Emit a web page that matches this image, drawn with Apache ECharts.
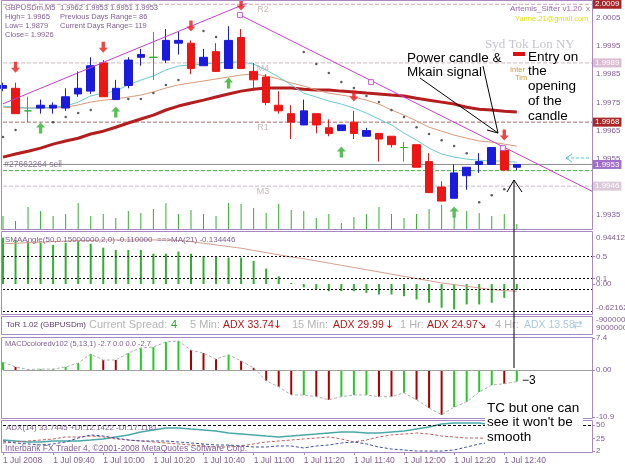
<!DOCTYPE html>
<html>
<head>
<meta charset="utf-8">
<script src="https://cdn.jsdelivr.net/npm/echarts@6/dist/echarts.min.js"></script>
<style>
html, body { margin: 0; padding: 0; background: #fff; }
#chart { width: 625px; height: 469px; }
</style>
</head>
<body>
<div id="chart"></div>
<script>
// GBPUSDm M5, 1 Jul 2008
const times = ['09:20','09:25','09:30','09:35','09:40','09:45','09:50','09:55','10:00','10:05','10:10','10:15','10:20','10:25',
  '10:30','10:35','10:40','10:45','10:50','10:55','11:00','11:05','11:10','11:15','11:20','11:25','11:30','11:35',
  '11:40','11:45','11:50','11:55','12:00','12:05','12:10','12:15','12:20','12:25','12:30','12:35','12:40','12:45'];

const opens  = [1.9980,1.9980,1.9972,1.9973,1.9973,1.9973,1.9978,1.9979,1.9989,1.9976,1.9981,1.9991,1.9991,1.9990,
  1.9996,1.9996,1.9988,1.9993,1.9987,1.9998,1.9986,1.9984,1.9974,1.9971,1.9967,1.9971,1.9966,1.9965,
  1.9968,1.9963,1.9964,1.9963,1.9959,1.9960,1.9954,1.9945,1.9941,1.9949,1.9953,1.9953,1.9958,1.9952];
const closes = [1.9981,1.9971,1.9972,1.9974,1.9974,1.9977,1.9980,1.9988,1.9977,1.9980,1.9990,1.9992,1.9991,1.9997,
  1.9997,1.9987,1.9991,1.9986,1.9997,1.9987,1.9983,1.9975,1.9972,1.9968,1.9972,1.9967,1.9964,1.9967,
  1.9964,1.9965,1.9962,1.9960,1.9959,1.9952,1.9943,1.9940,1.9950,1.9952,1.9954,1.9959,1.9951,1.9953];
const lows   = [1.9979,1.9971,1.9968,1.9971,1.9971,1.9972,1.9977,1.9978,1.9977,1.9976,1.9980,1.9988,1.9983,1.9989,
  1.9992,1.9985,1.9988,1.9986,1.9987,1.9987,1.9979,1.9974,1.9971,1.9962,1.9967,1.9964,1.9963,1.9965,
  1.9962,1.9963,1.9954,1.9959,1.9954,1.9952,1.9943,1.9940,1.9941,1.9944,1.9950,1.9953,1.9951,1.9951];
const highs  = [1.9982,1.9982,1.9977,1.9976,1.9975,1.9980,1.9986,1.9991,1.9990,1.9983,1.9991,1.9994,2.0000,2.0001,
  2.0000,1.9997,1.9994,1.9996,2.0002,2.0001,1.9989,1.9985,1.9979,1.9974,1.9976,1.9971,1.9969,1.9967,
  1.9972,1.9966,1.9964,1.9963,1.9961,1.9960,1.9957,1.9947,1.9953,1.9952,1.9957,1.9959,1.9959,1.9953];

const maSlow = [1.99556,1.99567,1.99577,1.99588,1.99602,1.99613,1.99623,1.99638,1.99648,1.99662,1.99677,1.99691,1.99705,1.99723,
  1.99737,1.99748,1.99758,1.99769,1.99780,1.99790,1.99797,1.99801,1.99801,1.99801,1.99797,1.99794,1.99794,1.99790,
  1.99787,1.99783,1.99780,1.99776,1.99773,1.99765,1.99758,1.99751,1.99744,1.99733,1.99726,1.99723,1.99719,1.99716];
const maMid = [1.99733,1.99730,1.99730,1.99730,1.99730,1.99733,1.99741,1.99751,1.99758,1.99762,1.99769,1.99776,1.99787,1.99801,
  1.99812,1.99819,1.99826,1.99833,1.99840,1.99847,1.99851,1.99844,1.99833,1.99819,1.99808,1.99794,1.99783,1.99776,
  1.99769,1.99758,1.99744,1.99723,1.99705,1.99684,1.99662,1.99648,1.99634,1.99623,1.99613,1.99609,1.99602,1.99595];
const maFast = [1.99737,1.99733,1.99730,1.99730,1.99733,1.99737,1.99751,1.99773,1.99783,1.99790,1.99812,1.99829,1.99844,1.99865,
  1.99879,1.99883,1.99886,1.99890,1.99893,1.99893,1.99886,1.99865,1.99840,1.99812,1.99783,1.99769,1.99755,1.99744,
  1.99730,1.99712,1.99691,1.99670,1.99641,1.99616,1.99588,1.99567,1.99556,1.99549,1.99545,1.99542,1.99542,1.99538];
const sar = [1.99627,1.99652,null,null,1.99680,1.99698,1.99712,1.99723,null,null,1.99762,1.99762,1.99783,1.99812,
  1.99829,null,2.00003,1.99982,null,null,null,null,null,null,1.99929,1.99886,1.99854,1.99822,
  1.99801,1.99773,1.99751,1.99723,1.99698,1.99662,1.99638,1.99616,1.99595,1.99570,1.99396,1.99421,1.99442,null];

const downArrows = [[1,1.99875],[8,1.99946],[15,2.00021],[19,2.00095],[28,1.99773],[40,1.99634]];
const upArrows = [[3,1.99659],[9,1.99716],[18,1.99819],[27,1.99574],[36,1.99361]];

const volumes = [13,8,22,18,13,15,26,13,15,11,18,16,20,26,15,19,15,13,26,25,21,16,25,19,18,11,15,6,12,15,22,15,11,15,20,24,13,18,16,13,15,5];

// horizontal levels
const levelPrices = [2.00098, 1.99890, 1.99680, 1.99530, 1.99508, 1.99453];
const levelTexts = ['2.0009', '1.9989', '1.9968', '1.9953', '', '1.9946'];
const levelNames = ['R2', 'M4', 'R1', '', '', 'M3'];

// trend line (x in bar slots)
const trendUp = [[0, 1.99745], [20.5, 2.00121]];
const trendDown = [[18.91, 2.00060], [47, 1.99435]];
const trendMarks = [[18.91, 2.00060], [29.37, 1.99822], [39.9, 1.99588]];

const smaAngle = [0.84,0.80,0.78,0.75,0.71,0.75,0.77,0.73,0.66,0.62,0.62,0.62,0.55,0.55,0.59,0.55,0.51,0.50,0.48,0.48,0.42,
  0.28,0.14,0.02,-0.06,-0.10,-0.13,-0.13,-0.13,-0.16,-0.19,-0.19,-0.22,-0.28,-0.34,-0.43,-0.46,-0.37,-0.37,-0.34,-0.25,-0.11];
const smaMa = [0.73,0.74,0.75,0.76,0.77,0.78,0.79,0.79,0.80,0.80,0.80,0.80,0.80,0.80,0.79,0.77,0.74,0.71,0.68,0.65,0.61,
  0.57,0.53,0.49,0.46,0.42,0.38,0.34,0.30,0.26,0.22,0.18,0.14,0.10,0.06,0.02,-0.01,-0.04,-0.07,-0.10,-0.12,-0.13];
const smaLevels = [0.5, 0.1, -0.1, -0.5];
const smaTicks = [0.5, 0.1, 0, -0.1];

const macd = [1.8,0.7,0.1,0.2,0.2,0.7,1.6,3.7,2.3,2.3,3.9,5.1,5.3,6.5,6.7,4.6,3.9,2.5,3.5,2.1,0.5,
  -2.5,-3.9,-5.8,-5.8,-6.2,-6.9,-6.2,-5.8,-5.8,-6.2,-6.2,-5.3,-6.9,-8.8,-10.4,-8.6,-7.4,-5.1,-3.5,-3.2,-2.7];
const macdUp = [1,0,1,1,1,1,1,1,0,0,1,1,1,1,1,0,0,0,1,0,0,0,0,0,1,0,0,1,1,1,0,0,1,0,0,0,1,1,1,1,0,1];
const macdTicks = [7.4, 0, -10.9];

const adx = [22.1,20.3,18.5,18.5,20.3,20.3,20.3,22.1,24.0,27.7,31.4,36.9,40.6,44.3,44.3,42.4,40.6,38.7,35.1,33.2,31.4,
  29.5,27.7,29.5,31.4,33.2,35.1,36.9,36.9,35.1,35.1,36.9,38.7,42.4,46.1,51.7,53.5,53.5,53.5,49.8,46.1,33.7];
const diPlus = [16.6,18.5,20.3,22.1,24.0,27.7,27.7,29.5,27.7,24.0,22.1,20.3,18.5,16.6,14.8,12.9,11.1,9.2,9.2,11.1,14.8,
  18.5,20.3,22.1,24.0,25.8,27.7,24.0,18.5,22.1,27.7,31.4,33.2,35.1,33.2,29.5,27.7,25.8,25.8,24.0,22.1,22.1];
const diMinus = [20.3,16.6,14.8,12.9,14.8,18.5,25.8,31.4,29.5,25.8,22.1,20.3,20.3,20.3,18.5,16.6,14.8,12.9,12.9,11.1,9.2,
  9.2,11.1,11.1,7.4,11.1,12.9,16.6,18.5,14.8,9.2,5.5,3.7,1.8,1.8,1.8,3.7,9.2,14.8,18.5,20.3,20.3];
const adxTicks = [50, 25, 2];

const SLOTS = 48;
const FONT = '"Liberation Sans", Arial, sans-serif';
const AX = '#7e5e90';
const FRAME = '#a888c0';
const BLUE = '#1b1bdc';
const RED = '#ee1515';
const GREEN = '#2fb02f';

function renderChart() {
  const dom = document.getElementById('chart');
  const chart = echarts.init(dom);

  const cats = times.slice();
  for (let k = times.length; k < SLOTS; k++) cats.push('pad' + k);

  const candles = opens.map((o, i) => {
    const item = { value: [o, closes[i], lows[i], highs[i]] };
    if (o === closes[i]) {
      item.itemStyle = { color: GREEN, color0: GREEN, borderColor: GREEN, borderColor0: GREEN, borderColorDoji: GREEN };
    }
    return item;
  });

  const lvlLine = ['#c8a0b0', '#c8b8c4', '#a86a6a', '#8c8c8c', '#3cb43c', '#c8b8c8'];
  const lvlType = ['dashed', 'dashed', 'dashed', 'solid', 'dashed', 'dashed'];
  const lvlBox = ['#a82828', '#dcbcd0', '#a82828', '#a070c8', null, '#dccad8'];
  const levelSeries = levelPrices.map((p, i) => ({
    name: 'level' + i, type: 'line', xAxisIndex: 1, yAxisIndex: 0, z: 2,
    data: [[0, p], [SLOTS - 1, p]], showSymbol: false, silent: true,
    lineStyle: { color: lvlLine[i], type: lvlType[i], width: 1 },
    endLabel: {
      show: !!levelTexts[i], formatter: levelTexts[i], distance: 1,
      color: '#fff', backgroundColor: lvlBox[i], padding: [1, 2, 0, 2],
      fontSize: 8, fontFamily: FONT
    }
  }));

  const nameData = [];
  levelNames.forEach((n, i) => { if (n) nameData.push([20.75, levelPrices[i], n]); });

  const sarData = [];
  sar.forEach((v, i) => { if (v !== null) sarData.push([i, v]); });

  const grids = [
    { left: 3, right: 33, top: 3.7, height: 225.6 },
    { left: 3, right: 33, top: 189, height: 40 },
    { left: 3, right: 33, top: 232, height: 81 },
    { left: 3, right: 33, top: 338, height: 79 },
    { left: 3, right: 33, top: 420, height: 32 }
  ];

  const catAxis = (g, showLabels) => ({
    type: 'category', gridIndex: g, data: cats, boundaryGap: false,
    axisLine: { show: false },
    axisTick: showLabels ? { show: true, length: 3, lineStyle: { color: FRAME },
      interval: (i) => i % 4 === 0 && i < times.length } : { show: false },
    axisLabel: showLabels ? {
      show: true, align: 'left', margin: 4, fontSize: 8.5, fontFamily: FONT, color: AX,
      interval: (i) => i % 4 === 0 && i < times.length,
      formatter: (v, i) => (i === 0 ? '1 Jul 2008' : '1 Jul ' + v)
    } : { show: false },
    splitLine: { show: false }
  });

  const sideLabel = { fontSize: 8, fontFamily: FONT, color: AX, margin: 4 };

  const option = {
    animation: false,
    backgroundColor: '#fff',
    grid: grids,
    xAxis: [
      catAxis(0, false),
      { type: 'value', gridIndex: 0, min: 0, max: SLOTS - 1, show: false },
      catAxis(1, false),
      catAxis(2, false),
      catAxis(3, false),
      catAxis(4, true)
    ],
    yAxis: [
      {
        type: 'value', gridIndex: 0, position: 'right', min: 1.993, max: 2.001, interval: 0.0005,
        axisLine: { show: false }, axisTick: { show: false }, splitLine: { show: false },
        axisLabel: Object.assign({}, sideLabel, {
          formatter: (v) => (Math.round(v * 10000) % 10 === 5 ? v.toFixed(4) : '')
        })
      },
      { type: 'value', gridIndex: 1, min: 0, max: 40, show: false },
      {
        type: 'value', gridIndex: 2, position: 'right', min: -0.525, max: 0.944,
        axisLine: { show: false }, splitLine: { show: false },
        axisTick: { show: true, length: 3, lineStyle: { color: FRAME }, customValues: smaTicks },
        axisLabel: Object.assign({}, sideLabel, { customValues: smaTicks,
          formatter: (v) => (v === 0 ? '0.00' : String(v)) })
      },
      {
        type: 'value', gridIndex: 3, position: 'right', min: -10.9, max: 7.4,
        axisLine: { show: false }, splitLine: { show: false },
        axisTick: { show: true, length: 3, lineStyle: { color: FRAME }, customValues: macdTicks },
        axisLabel: Object.assign({}, sideLabel, { customValues: macdTicks,
          formatter: (v) => (v === 0 ? '0.00' : String(v)) })
      },
      {
        type: 'value', gridIndex: 4, position: 'right', min: 0, max: 59,
        axisLine: { show: false }, splitLine: { show: false },
        axisTick: { show: true, length: 3, lineStyle: { color: FRAME }, customValues: adxTicks },
        axisLabel: Object.assign({}, sideLabel, { customValues: adxTicks })
      }
    ],
    series: [
      {
        name: 'volume', type: 'bar', xAxisIndex: 2, yAxisIndex: 1, data: volumes,
        barWidth: 1, itemStyle: { color: GREEN }, z: 1
      },
      ...levelSeries,
      {
        name: 'GBPUSDm', type: 'candlestick', xAxisIndex: 0, yAxisIndex: 0, data: candles, barWidth: 8, z: 4,
        itemStyle: { color: BLUE, color0: RED, borderColor: BLUE, borderColor0: RED, borderColorDoji: GREEN, borderWidth: 1 }
      },
      {
        name: 'MA slow', type: 'line', xAxisIndex: 0, yAxisIndex: 0, data: maSlow, showSymbol: false,
        lineStyle: { color: '#b41e1e', width: 3 }, z: 3
      },
      {
        name: 'MA mid', type: 'line', xAxisIndex: 0, yAxisIndex: 0, data: maMid, showSymbol: false,
        lineStyle: { color: '#d89a7a', width: 1 }, z: 3
      },
      {
        name: 'MA fast', type: 'line', xAxisIndex: 0, yAxisIndex: 0, data: maFast, showSymbol: false,
        lineStyle: { color: '#6cc8d0', width: 1 }, z: 3
      },
      {
        name: 'SAR', type: 'scatter', xAxisIndex: 0, yAxisIndex: 0, data: sarData,
        symbolSize: 2.5, itemStyle: { color: '#333' }, z: 5
      },
      {
        name: 'sell', type: 'scatter', xAxisIndex: 0, yAxisIndex: 0, data: downArrows, z: 6,
        symbol: 'path://M4,0 L8,5 L5.5,5 L5.5,11 L2.5,11 L2.5,5 L0,5 Z', symbolRotate: 180,
        symbolSize: [9, 11], itemStyle: { color: RED }
      },
      {
        name: 'buy', type: 'scatter', xAxisIndex: 0, yAxisIndex: 0, data: upArrows, z: 6,
        symbol: 'path://M4,0 L8,5 L5.5,5 L5.5,11 L2.5,11 L2.5,5 L0,5 Z',
        symbolSize: [9, 11], itemStyle: { color: '#30b030' }
      },
      {
        name: 'trend up', type: 'line', xAxisIndex: 1, yAxisIndex: 0, data: trendUp, showSymbol: false,
        lineStyle: { color: '#c040c8', width: 1 }, z: 5
      },
      {
        name: 'trend down', type: 'line', xAxisIndex: 1, yAxisIndex: 0, data: trendDown, showSymbol: false,
        lineStyle: { color: '#c040c8', width: 1 }, z: 5
      },
      {
        name: 'trend marks', type: 'scatter', xAxisIndex: 1, yAxisIndex: 0, data: trendMarks, symbol: 'rect',
        symbolSize: 5, itemStyle: { color: '#fff', borderColor: '#c040c8', borderWidth: 1 }, z: 6
      },
      {
        name: 'level names', type: 'scatter', xAxisIndex: 1, yAxisIndex: 0, data: nameData, symbolSize: 0, z: 6,
        label: { show: true, position: 'bottom', distance: 1, formatter: (p) => p.value[2],
          color: '#b8a8a8', fontSize: 9, fontFamily: FONT }
      },
      {
        name: 'order', type: 'scatter', xAxisIndex: 1, yAxisIndex: 0, data: [[0.1, levelPrices[3]]], symbolSize: 0, z: 6,
        label: { show: true, position: 'right', distance: 0, formatter: '#27662264 sell',
          color: '#6e5a7a', fontSize: 8.5, fontFamily: FONT }
      },
      {
        name: 'SMAAngle', type: 'bar', xAxisIndex: 3, yAxisIndex: 2, data: smaAngle, barWidth: 2,
        itemStyle: { color: GREEN },
        markLine: { silent: true, symbol: 'none', animation: false, label: { show: false },
          lineStyle: { color: '#000', type: [2, 2], width: 1 },
          data: smaLevels.map((v) => ({ yAxis: v })) }
      },
      {
        name: 'SMA MA', type: 'line', xAxisIndex: 3, yAxisIndex: 2, data: smaMa, showSymbol: false,
        lineStyle: { color: '#d4a090', width: 1 }
      },
      {
        name: 'MACD', type: 'bar', xAxisIndex: 4, yAxisIndex: 3, barWidth: 2,
        data: macd.map((v, i) => ({ value: v, itemStyle: { color: macdUp[i] ? '#22cc22' : '#aa0000' } })),
        markLine: { silent: true, symbol: 'none', animation: false, label: { show: false },
          lineStyle: { color: '#a0a0a0', type: 'solid', width: 1 }, data: [{ yAxis: 0 }] }
      },
      {
        name: 'MACD line', type: 'line', xAxisIndex: 4, yAxisIndex: 3, data: macd, showSymbol: false,
        lineStyle: { color: '#b0b0b0', width: 1, type: [3, 2] }
      },
      {
        name: 'ADX', type: 'line', xAxisIndex: 5, yAxisIndex: 4, data: adx, showSymbol: false,
        lineStyle: { color: '#4aa8a8', width: 1.5 },
        markLine: { silent: true, symbol: 'none', animation: false, label: { show: false },
          lineStyle: { color: '#000', type: [3, 2], width: 1 }, data: [{ yAxis: 50 }] }
      },
      {
        name: '+DI', type: 'line', xAxisIndex: 5, yAxisIndex: 4, data: diPlus, showSymbol: false,
        lineStyle: { color: '#c06060', width: 1, type: [3, 2] }
      },
      {
        name: '-DI', type: 'line', xAxisIndex: 5, yAxisIndex: 4, data: diMinus, showSymbol: false,
        lineStyle: { color: '#4050a0', width: 1, type: [3, 2] }
      }
    ],
    graphic: { elements: buildGraphics() }
  };
  chart.setOption(option, true);
}

function txt(text, x, y, size, color, extra) {
  return {
    type: 'text', z: 101,
    style: Object.assign({ text: text, x: x, y: y, fontSize: size, fontFamily: FONT, fill: color,
      verticalAlign: 'middle', align: 'left' }, extra || {})
  };
}

function line(points, color, dash) {
  return {
    type: 'polyline', z: 102, shape: { points: points },
    style: { stroke: color, lineWidth: 1, fill: null, lineDash: dash || null }
  };
}

function buildGraphics() {
  const g = [];
  // pane frames
  [[0.5, 229], [231.5, 83], [316.5, 18], [337.5, 81], [420.5, 32]].forEach(([y, h]) => {
    g.push({ type: 'rect', z: 50, shape: { x: 1.5, y: y, width: 591, height: h },
      style: { fill: null, stroke: FRAME, lineWidth: 1 } });
  });

  // header
  g.push(txt('GBPUSDm,M5', 5, 8, 7.5, AX));
  g.push(txt('1.9962 1.9953 1.9951 1.9953', 60, 8, 7.5, AX));
  g.push(txt('High= 1.9965', 5, 17, 7.5, AX));
  g.push(txt('Previous Days Range= 86', 60, 17, 7.5, AX));
  g.push(txt('Low= 1.9879', 5, 26, 7.5, AX));
  g.push(txt('Current Days Range= 119', 60, 26, 7.5, AX));
  g.push(txt('Close= 1.9926', 5, 35, 7.5, AX));

  g.push(txt('Artemis_Sifter v1.20', 582, 9, 8, '#9a6ab0', { align: 'right' }));
  g.push(txt('x', 586, 9, 8, '#9a6ab0'));
  g.push(txt('Yanne.21@gmail.com', 515, 19, 7.5, '#e0dc10'));
  g.push(txt('Syd Tok Lon NY', 485, 45, 13, '#c4c4cc', { fontFamily: '"Liberation Serif", serif' }));
  g.push({ type: 'rect', z: 101, shape: { x: 513, y: 52, width: 12, height: 4 }, style: { fill: '#dd1010' } });
  g.push(txt('Inter', 510, 70, 7.5, '#d0a040'));
  g.push(txt('Tim', 515, 78, 7.5, '#d0a040'));

  // annotations
  const ann = { fontSize: 13.5 };
  g.push(txt('Power candle &', 407, 58, 13.5, '#000', ann));
  g.push(txt('Mkain signal', 407, 72, 13.5, '#000', ann));
  ['Entry on', 'the', 'opening', 'of the', 'candle'].forEach((s, i) => {
    g.push(txt(s, 528, 57 + i * 14.7, 13.5, '#000', ann));
  });
  g.push(line([[420, 78], [498, 133]], '#000'));
  g.push(line([[483, 66], [498, 133]], '#000'));
  g.push(line([[487, 130], [498, 133]], '#000'));
  g.push(line([[514, 368], [514, 180]], '#000'));
  g.push(line([[507, 192], [514, 180], [522, 192]], '#000'));
  g.push(line([[566, 158], [591, 158]], '#5cc4d4', [3, 2]));
  g.push(line([[572, 154], [566, 158], [572, 162]], '#5cc4d4'));

  // indicator titles
  g.push(txt('SMAAngle(50,0.15000000,2,0) -0.110000  ==>MA(21) -0.134446', 5, 240, 8, AX));
  g.push(txt('0.944125', 596, 238, 8, AX));
  g.push(txt('-0.62162', 596, 308, 8, AX));

  g.push(txt('ToR 1.02 (GBPUSDm)', 6, 325, 8, '#5a3a6a'));
  g.push(txt('Current Spread:', 89, 325, 11, '#b4b4b4'));
  g.push(txt('4', 171, 325, 11, '#2aa52a'));
  g.push(txt('5 Min:', 190, 325, 11, '#b4b4b4'));
  g.push(txt('ADX 33.74', 223, 325, 10.5, '#b01818'));
  g.push(txt('↓', 273, 325, 11, '#d01818', { fontFamily: '"DejaVu Sans"' }));
  g.push(txt('15 Min:', 292, 325, 11, '#b4b4b4'));
  g.push(txt('ADX 29.99', 333, 325, 10.5, '#b01818'));
  g.push(txt('↓', 385, 325, 11, '#d01818', { fontFamily: '"DejaVu Sans"' }));
  g.push(txt('1 Hr:', 400, 325, 11, '#b4b4b4'));
  g.push(txt('ADX 24.97', 427, 325, 10.5, '#b01818'));
  g.push(txt('↘', 477, 325, 11, '#d01818', { fontFamily: '"DejaVu Sans"' }));
  g.push(txt('4 Hr:', 495, 325, 11, '#b4b4b4'));
  g.push(txt('ADX 13.58', 524, 325, 10.5, '#a8c8dc'));
  g.push(txt('⇄', 573, 325, 11, '#a8c8dc', { fontFamily: '"DejaVu Sans"' }));
  g.push(txt('-9000000', 596, 320, 8, AX));
  g.push(txt('9000000', 596, 328, 8, AX));

  g.push(txt('MACDcoloredv102 (5,13,1) -2.7 0.0 0.0 -2.7', 5, 344, 7.5, AX));
  g.push(txt('\u22123', 522, 381, 12, '#000'));

  g.push(txt('ADX(14) 33.7445 +DI:12.1422 -DI:17.1181', 6, 428, 8, AX));
  g.push(txt('Interbank FX Trader 4, \u00a92001-2008 MetaQuotes Software Corp.', 5, 449, 8.5, AX));

  // note box
  g.push({ type: 'rect', z: 100, shape: { x: 485, y: 399, width: 98, height: 48 }, style: { fill: '#fff' } });
  ['TC but one can', "see it won't be", 'smooth'].forEach((s, i) => {
    g.push(txt(s, 487, 408 + i * 14.5, 13.5, '#000', ann));
  });
  return g;
}

renderChart();
</script>
</body>
</html>
